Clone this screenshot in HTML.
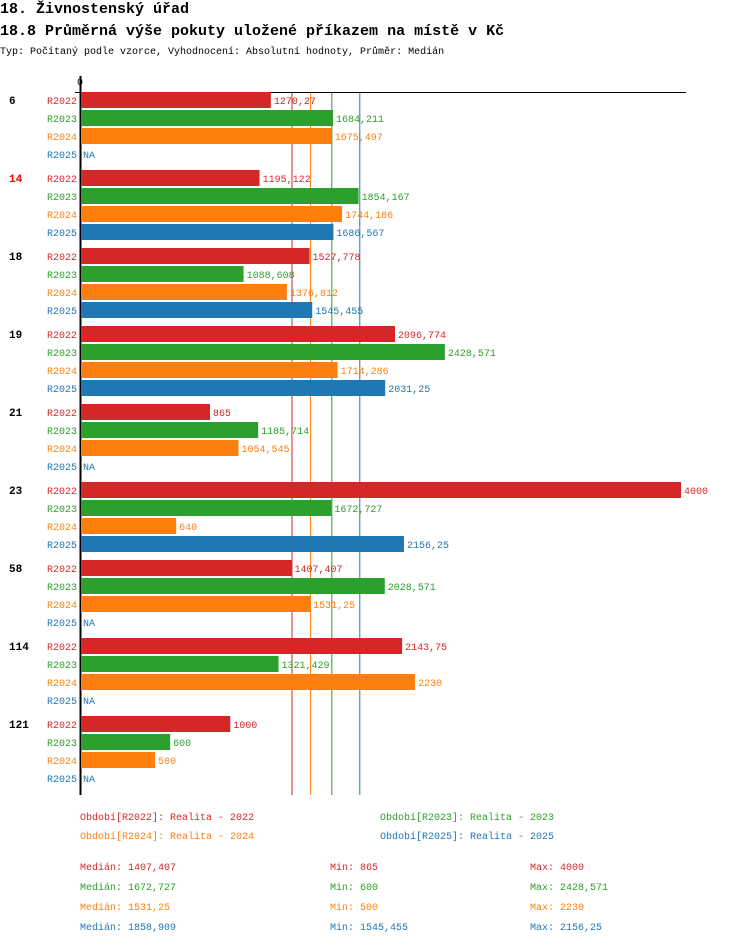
<!DOCTYPE html>
<html><head><meta charset="utf-8"><style>
body{margin:0;background:#fff;width:750px;height:944px;overflow:hidden;font-family:"Liberation Mono",monospace}
</style></head><body>
<svg id="c" width="750" height="944" xmlns="http://www.w3.org/2000/svg" font-family="Liberation Mono, monospace">
<text x="0" y="13" font-size="15" font-weight="bold">18. Živnostenský úřad</text>
<text x="0" y="35" font-size="15" font-weight="bold">18.8 Průměrná výše pokuty uložené příkazem na místě v Kč</text>
<text x="0" y="54" font-size="10">Typ: Počítaný podle vzorce, Vyhodnocení: Absolutní hodnoty, Průměr: Medián</text>
<g id="plot"></g>
</svg>
<script>
const categories=["6","14","18","19","21","23","58","114","121"];
const highlight=["14"];
const series=["R2022","R2023","R2024","R2025"];
const colors=["#d62728","#2ca02c","#ff7f0e","#1f77b4"];
const v2022=[1270.27,1195.122,1527.778,2096.774,865,4000,1407.407,2143.75,1000];
const v2023=[1684.211,1854.167,1088.608,2428.571,1185.714,1672.727,2028.571,1321.429,600];
const v2024=[1675.497,1744.186,1376.812,1714.286,1054.545,640,1531.25,2230,500];
const v2025=[null,1686.567,1545.455,2031.25,null,2156.25,null,null,null];
const medians=[1407.407,1672.727,1531.25,1858.909];
const mins=[865,600,500,1545.455];
const maxs=[4000,2428.571,2230,2156.25];
const data=[v2022,v2023,v2024,v2025];
const NS="http://www.w3.org/2000/svg";
const g=document.getElementById('plot');
const x=v=>80+v*601/4000;
const yC=(ci,si)=>100+ci*78+si*18;
const fmt=v=>v===null?"NA":String(v).replace('.',',');
function el(t,a,txt){const e=document.createElementNS(NS,t);for(const k in a)e.setAttribute(k,a[k]);if(txt!==undefined)e.textContent=txt;g.appendChild(e);return e;}
medians.forEach((m,i)=>{const l=el('line',{x1:x(m)+0.5,x2:x(m)+0.5,y1:92,y2:795,stroke:colors[i],'stroke-width':1});

});
const ax=el('line',{x1:75,x2:686,y1:92.5,y2:92.5,stroke:'#000','stroke-width':1});


const ay=el('line',{x1:80.5,x2:80.5,y1:76,y2:795,stroke:'#000','stroke-width':2});


const z=el('text',{x:77,y:85,'font-size':10},'0');


categories.forEach((c,ci)=>{
 const t=el('text',{x:9,y:yC(ci,0)+4,'font-size':11,'font-weight':'bold',fill:highlight.includes(c)?'#e00':'#000'},c);
 
 
 series.forEach((s,si)=>{
  const yc=yC(ci,si),v=data[si][ci];
  const lb=el('text',{x:77,y:yc+4,'font-size':10,'text-anchor':'end',fill:colors[si]},s);
  
  
  let ex=83;
  if(v!==null){const r=el('rect',{x:81,y:yc-8,width:x(v)-81,height:16,fill:colors[si]});
   
   ex=x(v)+3;}
  const vt=el('text',{x:ex,y:yc+4,'font-size':10,fill:colors[si]},fmt(v));
  
  
 });
});
const legPos=[[80,820],[380,820],[80,839],[380,839]];
series.forEach((s,i)=>{
 const t=el('text',{x:legPos[i][0],y:legPos[i][1],'font-size':10,fill:colors[i]},'Období['+s+']: Realita - '+s.slice(1));
 
 
 const y=870+i*20;
 const a=el('text',{x:80,y:y,'font-size':10,fill:colors[i]},'Medián: '+fmt(medians[i]));
 
 
 const b=el('text',{x:330,y:y,'font-size':10,fill:colors[i]},'Min: '+fmt(mins[i]));
 
 
 const d=el('text',{x:530,y:y,'font-size':10,fill:colors[i]},'Max: '+fmt(maxs[i]));
 
 
});
</script>
</body></html>
